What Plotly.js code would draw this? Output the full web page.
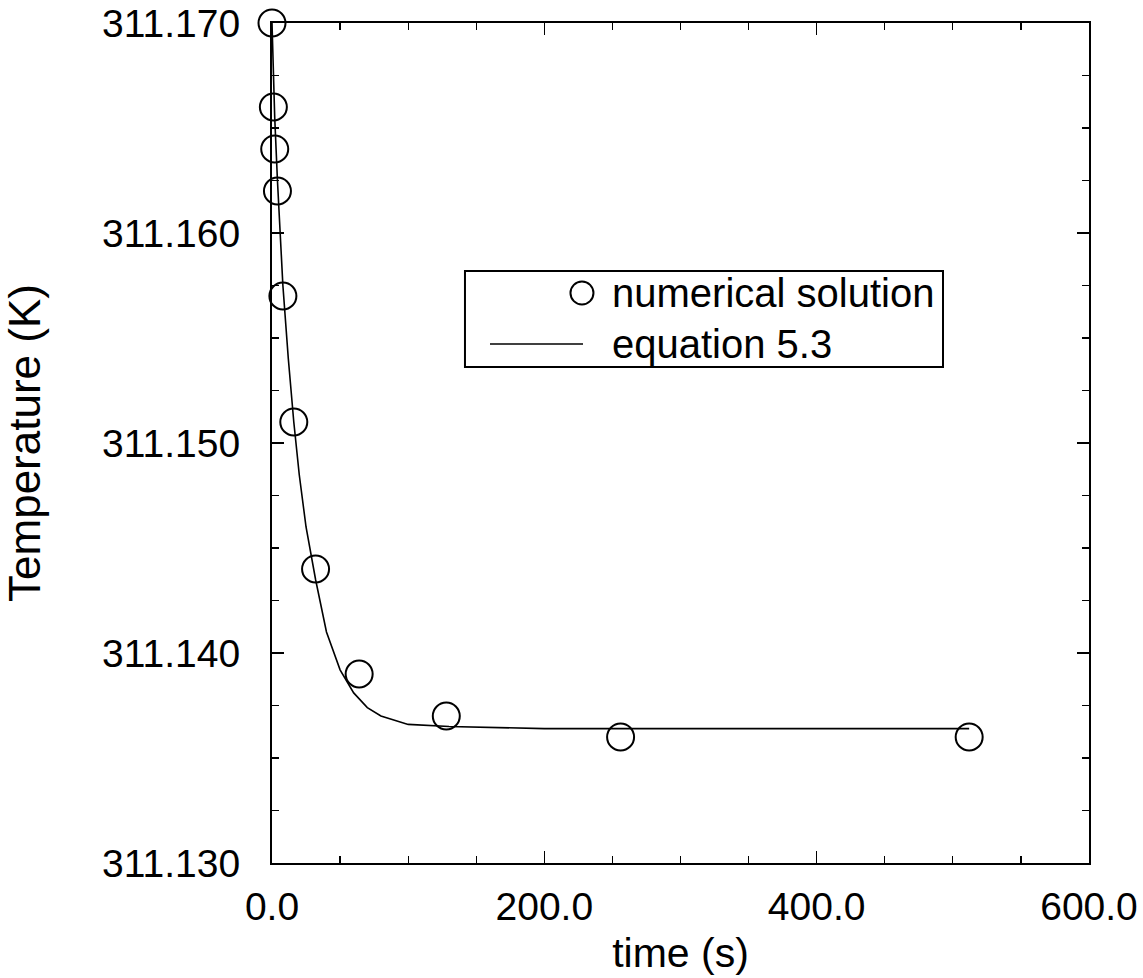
<!DOCTYPE html>
<html>
<head>
<meta charset="utf-8">
<script src="https://cdn.plot.ly/plotly-3.0.1.min.js"></script>
<style>html,body{margin:0;padding:0;background:#fff;}#chart{width:1143px;height:978px;}</style>
</head>
<body>
<div id="chart"></div>
<script>
// numerical solution (circles)
const numTime = [0, 1, 2, 4, 8, 16, 32, 64, 128, 256, 512];
const numTemp = [311.1700, 311.1660, 311.1640, 311.1620, 311.1570, 311.1510, 311.1440, 311.1390, 311.1370, 311.1360, 311.1360];

// equation 5.3 (solid curve)
const eqTime = [0, 1, 2, 4, 8, 12, 16, 20, 25, 32, 40, 50, 60, 70, 80, 100, 130, 200, 300, 400, 512];
const eqTemp = [311.1700, 311.1675, 311.1655, 311.1625, 311.1575, 311.1540, 311.1510, 311.1485, 311.1460, 311.1435, 311.1410, 311.1392, 311.1381, 311.1374, 311.1370, 311.1366, 311.1365, 311.1364, 311.1364, 311.1364, 311.1364];

const seriesNames = ['numerical solution', 'equation 5.3'];
const xTitle = 'time (s)';
const yTitle = 'Temperature (K)';

const FONT = 'Liberation Sans, Arial, Helvetica, sans-serif';

const traces = [
  {
    x: eqTime, y: eqTemp, name: seriesNames[1], type: 'scatter', mode: 'lines',
    line: {color: '#000', width: 1.6}, cliponaxis: false, showlegend: false
  },
  {
    x: numTime, y: numTemp, name: seriesNames[0], type: 'scatter', mode: 'markers',
    marker: {symbol: 'circle-open', size: 27, color: '#000', line: {width: 2, color: '#000'}},
    cliponaxis: false, showlegend: false
  }
];

// legend geometry (paper coords)
const lg = {x0: 0.2362, x1: 0.8213, y0: 0.5905, y1: 0.7048};
const row1 = 0.6786, row2 = 0.6179;

const layout = {
  width: 1143, height: 978,
  margin: {l: 272, r: 54, t: 23, b: 115},
  paper_bgcolor: '#fff', plot_bgcolor: '#fff',
  font: {family: FONT, color: '#000', size: 39},
  showlegend: false,
  xaxis: {
    range: [0, 600], dtick: 200, tick0: 0, tickformat: '.1f',
    ticks: 'inside', ticklen: 12, tickwidth: 1.5, tickcolor: '#000',
    minor: {dtick: 50, ticks: 'inside', ticklen: 7, tickwidth: 1.2, tickcolor: '#000'},
    showline: true, linecolor: '#000', linewidth: 2, mirror: 'ticks',
    showgrid: false, zeroline: false,
    tickfont: {family: FONT, size: 39, color: '#000'},
    ticklabelstandoff: 8,
    title: {text: xTitle, font: {family: FONT, size: 41, color: '#000'}, standoff: 12}
  },
  yaxis: {
    range: [311.130, 311.170], dtick: 0.01, tick0: 311.13, tickformat: '.3f',
    ticks: 'inside', ticklen: 12, tickwidth: 1.5, tickcolor: '#000',
    minor: {dtick: 0.0025, ticks: 'inside', ticklen: 7, tickwidth: 1.2, tickcolor: '#000'},
    showline: true, linecolor: '#000', linewidth: 2, mirror: 'ticks',
    showgrid: false, zeroline: false,
    tickfont: {family: FONT, size: 39, color: '#000'},
    ticklabelstandoff: 22,
    title: {text: yTitle, font: {family: FONT, size: 44, color: '#000'}, standoff: 52}
  },
  shapes: [
    {type: 'rect', xref: 'paper', yref: 'paper', x0: lg.x0, x1: lg.x1, y0: lg.y0, y1: lg.y1,
     line: {color: '#000', width: 2}, fillcolor: 'rgba(0,0,0,0)'},
    {type: 'line', xref: 'paper', yref: 'paper', x0: 0.2668, x1: 0.3807, y0: row2, y1: row2,
     line: {color: '#000', width: 1.6}},
    {type: 'circle', xref: 'paper', yref: 'paper', xsizemode: 'pixel', ysizemode: 'pixel',
     xanchor: 0.3794, yanchor: row1, x0: -11.5, x1: 11.5, y0: -11.5, y1: 11.5,
     line: {color: '#000', width: 2}}
  ],
  annotations: [
    {xref: 'paper', yref: 'paper', x: 0.4135, y: row1, xanchor: 'left', yanchor: 'middle',
     text: seriesNames[0], showarrow: false, font: {family: FONT, size: 40, color: '#000'}},
    {xref: 'paper', yref: 'paper', x: 0.4135, y: row2, xanchor: 'left', yanchor: 'middle',
     text: seriesNames[1], showarrow: false, font: {family: FONT, size: 40, color: '#000'}}
  ]
};

Plotly.newPlot('chart', traces, layout, {staticPlot: true, displayModeBar: false});
</script>
</body>
</html>
